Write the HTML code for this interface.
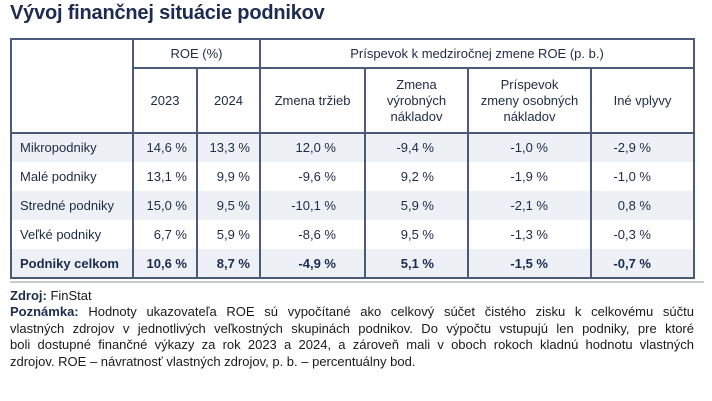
<!DOCTYPE html>
<html><head><meta charset="utf-8"><style>
body{margin:0;width:712px;height:401px;background:#fff;position:relative;font-family:"Liberation Sans",sans-serif;color:#1f2a44;overflow:hidden}
.t{position:absolute;left:10px;top:2px;font-size:20px;font-weight:bold;color:#1c2b4f;letter-spacing:-0.2px}
.bg{position:absolute;left:10px;width:685px;height:29px;background:#edf0f5}
.h{position:absolute;background:#4a5a78}
.c{position:absolute;font-size:13px;line-height:29px;white-space:nowrap}
.hd{position:absolute;font-size:13px;text-align:center;line-height:16px}
.f{position:absolute;left:10px;width:684px;font-size:13px;color:#1a1a1a;text-align:justify;text-align-last:justify;white-space:nowrap;line-height:16px}
.b{font-weight:bold;color:#1c2b4f}
</style></head><body>
<div class="t">Vývoj finančnej situácie podnikov</div>
<div class="bg" style="top:133px"></div>
<div class="bg" style="top:191px"></div>
<div class="bg" style="top:249px"></div>
<div class="h" style="left:10px;top:38px;width:685px;height:2px"></div>
<div class="h" style="left:10px;top:277px;width:685px;height:2px"></div>
<div class="h" style="left:10px;top:38px;width:2px;height:241px"></div>
<div class="h" style="left:693px;top:38px;width:2px;height:241px"></div>
<div class="h" style="left:132px;top:38px;width:2px;height:241px"></div>
<div class="h" style="left:196px;top:68px;width:2px;height:211px"></div>
<div class="h" style="left:259px;top:38px;width:2px;height:241px"></div>
<div class="h" style="left:364px;top:68px;width:2px;height:211px"></div>
<div class="h" style="left:467px;top:68px;width:2px;height:211px"></div>
<div class="h" style="left:590px;top:68px;width:2px;height:211px"></div>
<div class="h" style="left:132px;top:67px;width:563px;height:1.5px"></div>
<div class="h" style="left:10px;top:132px;width:685px;height:1.5px"></div>
<div class="hd" style="left:134px;width:125px;top:46px">ROE (%)</div>
<div class="hd" style="left:261px;width:432px;top:46px">Príspevok k medziročnej zmene ROE (p. b.)</div>
<div class="hd" style="left:134px;width:62px;top:93px">2023</div>
<div class="hd" style="left:198px;width:61px;top:93px">2024</div>
<div class="hd" style="left:261px;width:103px;top:93px">Zmena tržieb</div>
<div class="hd" style="left:366px;width:101px;top:77px">Zmena<br>výrobných<br>nákladov</div>
<div class="hd" style="left:469px;width:121px;top:77px">Príspevok<br>zmeny osobných<br>nákladov</div>
<div class="hd" style="left:592px;width:101px;top:93px">Iné vplyvy</div>
<div style="position:absolute;left:0;top:133px">
<div class="c" style="left:20px;top:0">Mikropodniky</div>
<div class="c" style="left:20px;top:29px">Malé podniky</div>
<div class="c" style="left:20px;top:58px">Stredné podniky</div>
<div class="c" style="left:20px;top:87px">Veľké podniky</div>
<div class="c b" style="left:20px;top:116px">Podniky celkom</div>
</div>
<div style="position:absolute;left:0;top:133px;width:712px">
<div class="c" style="right:525px;top:0">14,6 %</div><div class="c" style="right:525px;top:29px">13,1 %</div><div class="c" style="right:525px;top:58px">15,0 %</div><div class="c" style="right:525px;top:87px">6,7 %</div><div class="c b" style="right:525px;top:116px">10,6 %</div>
<div class="c" style="right:462px;top:0">13,3 %</div><div class="c" style="right:462px;top:29px">9,9 %</div><div class="c" style="right:462px;top:58px">9,5 %</div><div class="c" style="right:462px;top:87px">5,9 %</div><div class="c b" style="right:462px;top:116px">8,7 %</div>
<div class="c" style="right:376px;top:0">12,0 %</div><div class="c" style="right:376px;top:29px">-9,6 %</div><div class="c" style="right:376px;top:58px">-10,1 %</div><div class="c" style="right:376px;top:87px">-8,6 %</div><div class="c b" style="right:376px;top:116px">-4,9 %</div>
<div class="c" style="right:278px;top:0">-9,4 %</div><div class="c" style="right:278px;top:29px">9,2 %</div><div class="c" style="right:278px;top:58px">5,9 %</div><div class="c" style="right:278px;top:87px">9,5 %</div><div class="c b" style="right:278px;top:116px">5,1 %</div>
<div class="c" style="right:164px;top:0">-1,0 %</div><div class="c" style="right:164px;top:29px">-1,9 %</div><div class="c" style="right:164px;top:58px">-2,1 %</div><div class="c" style="right:164px;top:87px">-1,3 %</div><div class="c b" style="right:164px;top:116px">-1,5 %</div>
<div class="c" style="right:61px;top:0">-2,9 %</div><div class="c" style="right:61px;top:29px">-1,0 %</div><div class="c" style="right:61px;top:58px">0,8 %</div><div class="c" style="right:61px;top:87px">-0,3 %</div><div class="c b" style="right:61px;top:116px">-0,7 %</div>
</div>
<div style="position:absolute;left:10px;top:281px;width:694px;height:1.5px;background:#c5cad3"></div>
<div class="f" style="top:288px;text-align-last:left"><span class="b">Zdroj:</span> FinStat</div>
<div class="f" style="top:304px"><span class="b">Poznámka:</span> Hodnoty ukazovateľa ROE sú vypočítané ako celkový súčet čistého zisku k celkovému súčtu</div>
<div class="f" style="top:321px">vlastných zdrojov v jednotlivých veľkostných skupinách podnikov. Do výpočtu vstupujú len podniky, pre ktoré</div>
<div class="f" style="top:337px">boli dostupné finančné výkazy za rok 2023 a 2024, a zároveň mali v oboch rokoch kladnú hodnotu vlastných</div>
<div class="f" style="top:354px;text-align-last:left">zdrojov. ROE – návratnosť vlastných zdrojov, p. b. – percentuálny bod.</div>
</body></html>
